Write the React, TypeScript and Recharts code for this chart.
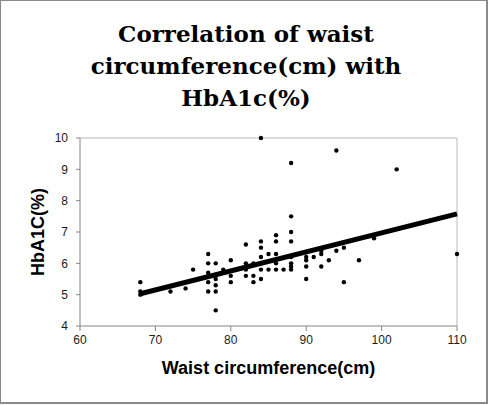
import React from 'react'
import { ScatterChart, Scatter, XAxis, YAxis, ReferenceLine } from 'recharts'

// values
const waistCm = [
  68, 68, 68, 72, 74, 75,
  77, 77, 77, 77, 77,
  78, 78, 78, 78, 78,
  79, 80, 80, 80,
  82, 82, 82, 82, 83, 83, 83,
  84, 84, 84, 84, 84, 84, 84,
  85, 85, 86, 86, 86, 86, 86, 87,
  88, 88, 88, 88, 88, 88, 88, 88,
  90, 90, 90, 90, 91, 92, 92, 92, 93,
  94, 94, 95, 95, 97, 99, 102, 110,
]
const hba1cPct = [
  5.4, 5.1, 5.0, 5.1, 5.2, 5.8,
  6.3, 6.0, 5.7, 5.4, 5.1,
  6.0, 5.5, 5.3, 5.1, 4.5,
  5.8, 6.1, 5.6, 5.4,
  6.6, 6.0, 5.8, 5.6, 6.0, 5.6, 5.4,
  10.0, 6.7, 6.5, 6.2, 6.0, 5.8, 5.5,
  6.3, 5.8, 6.9, 6.7, 6.3, 6.0, 5.8, 5.8,
  9.2, 7.5, 7.0, 6.7, 6.2, 6.0, 5.9, 5.8,
  6.2, 6.1, 5.9, 5.5, 6.2, 6.4, 6.3, 5.9, 6.1,
  9.6, 6.4, 6.5, 5.4, 6.1, 6.8, 9.0, 6.3,
]
const trendX = [68, 110]
const trendY = [5.03, 7.58]

const xTicks = [60, 70, 80, 90, 100, 110]
const yTicks = [4, 5, 6, 7, 8, 9, 10]
const titleLines = ['Correlation of waist', 'circumference(cm) with', 'HbA1c(%)']

const points = waistCm.map((x, i) => ({ x, y: hba1cPct[i] }))
const trend = trendX.map((x, i) => ({ x, y: trendY[i] }))

const tickStyle = { fill: '#1a1a1a', fontSize: 12, fontFamily: 'Liberation Sans' }
const axisTitle = { fontFamily: 'Liberation Sans', fontWeight: 700, fontSize: 18, fill: '#000' }

const Dot = (p: any) => <circle cx={p.cx} cy={p.cy} r={2.2} fill="#000" />

export default function App() {
  return (
    <div style={{ position: 'absolute', left: 0, top: 0, width: 490, height: 405, background: '#fff' }}>
      <ScatterChart width={490} height={405} margin={{ top: 138, right: 33, bottom: 49, left: 0 }}>
        <XAxis
          type="number"
          dataKey="x"
          domain={[60, 110]}
          ticks={xTicks}
          height={30}
          tickSize={5}
          tickMargin={4}
          stroke="#868686"
          tick={tickStyle}
          label={{
            content: ({ viewBox }: any) => (
              <text x={viewBox.x + viewBox.width / 2} y={viewBox.y + 48} textAnchor="middle" style={axisTitle}>
                Waist circumference(cm)
              </text>
            ),
          }}
        />
        <YAxis
          type="number"
          dataKey="y"
          domain={[4, 10]}
          ticks={yTicks}
          width={80}
          tickSize={4}
          tickMargin={8}
          stroke="#868686"
          tick={tickStyle}
          label={{
            content: ({ viewBox }: any) => {
              const cy = viewBox.y + viewBox.height / 2
              return (
                <text x={44} y={cy} transform={`rotate(-90, 44, ${cy})`} textAnchor="middle" style={axisTitle}>
                  HbA1C(%)
                </text>
              )
            },
          }}
        />
        <ReferenceLine y={10} stroke="#b8b8b8" />
        <ReferenceLine x={110} stroke="#b8b8b8" />
        <Scatter data={points} fill="#000" shape={Dot} isAnimationActive={false} />
        <Scatter
          data={trend}
          line={{ stroke: '#000', strokeWidth: 5 }}
          shape={() => <g />}
          isAnimationActive={false}
        />
      </ScatterChart>
      <svg width={490} height={405} style={{ position: 'absolute', left: 0, top: 0, pointerEvents: 'none' }}>
        {titleLines.map((t, i) => (
          <text
            key={t}
            x={246}
            y={42 + i * 32}
            textAnchor="middle"
            style={{ fontFamily: 'DejaVu Serif', fontWeight: 700, fontSize: 23, fill: '#000' }}
          >
            {t}
          </text>
        ))}
      </svg>
      <div
        style={{
          position: 'absolute',
          left: 0,
          top: 0,
          width: 488,
          height: 404,
          boxSizing: 'border-box',
          border: '2px solid #8a8a8a',
          borderTopWidth: 1,
          borderLeftWidth: 1,
        }}
      />
    </div>
  )
}
